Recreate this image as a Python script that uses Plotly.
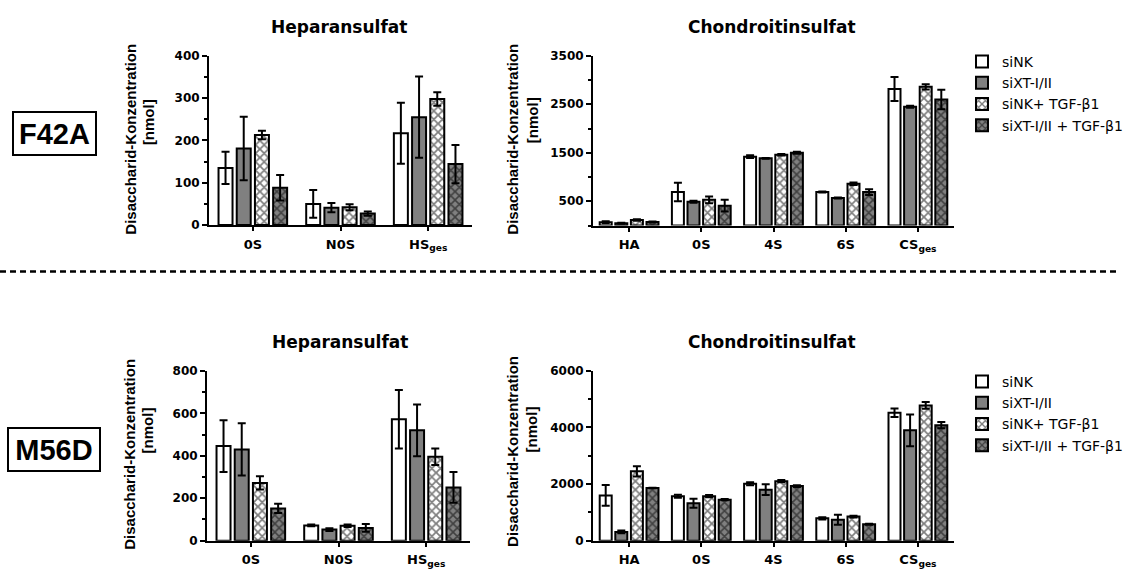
import plotly.graph_objects as go

W, H = 1142, 574

# ---------------- data ----------------
series_names = ["siNK", "siXT-I/II", "siNK+ TGF-\u03b21", "siXT-I/II + TGF-\u03b21"]

hs_categories = ["0S", "N0S", "HS<sub>ges</sub>"]
cs_categories = ["HA", "0S", "4S", "6S", "CS<sub>ges</sub>"]

# F42A - Heparansulfat
f42a_hs_siNK = [135, 50, 217]
f42a_hs_siNK_err = [38, 33, 72]
f42a_hs_siXT = [181, 41, 255]
f42a_hs_siXT_err = [75, 11, 96]
f42a_hs_siNK_tgf = [213, 42, 298]
f42a_hs_siNK_tgf_err = [10, 7, 16]
f42a_hs_siXT_tgf = [88, 27, 144]
f42a_hs_siXT_tgf_err = [30, 5, 45]

# F42A - Chondroitinsulfat
f42a_cs_siNK = [67, 690, 1420, 690, 2815]
f42a_cs_siNK_err = [20, 190, 30, 10, 248]
f42a_cs_siXT = [47, 490, 1385, 570, 2450]
f42a_cs_siXT_err = [10, 20, 10, 10, 20]
f42a_cs_siNK_tgf = [114, 530, 1460, 860, 2860]
f42a_cs_siNK_tgf_err = [15, 70, 15, 25, 55]
f42a_cs_siXT_tgf = [74, 410, 1500, 690, 2600]
f42a_cs_siXT_tgf_err = [10, 120, 20, 60, 200]

# M56D - Heparansulfat
m56d_hs_siNK = [446, 72, 572]
m56d_hs_siNK_err = [122, 4, 138]
m56d_hs_siXT = [430, 52, 520]
m56d_hs_siXT_err = [123, 6, 122]
m56d_hs_siNK_tgf = [272, 70, 395]
m56d_hs_siNK_tgf_err = [31, 6, 39]
m56d_hs_siXT_tgf = [152, 60, 251]
m56d_hs_siXT_tgf_err = [22, 18, 72]

# M56D - Chondroitinsulfat
m56d_cs_siNK = [1600, 1570, 2010, 790, 4520]
m56d_cs_siNK_err = [370, 50, 50, 40, 150]
m56d_cs_siXT = [310, 1320, 1800, 740, 3900]
m56d_cs_siXT_err = [50, 160, 190, 180, 560]
m56d_cs_siNK_tgf = [2450, 1570, 2100, 850, 4780]
m56d_cs_siNK_tgf_err = [180, 40, 40, 30, 120]
m56d_cs_siXT_tgf = [1860, 1450, 1930, 580, 4080]
m56d_cs_siXT_tgf_err = [10, 25, 30, 20, 110]

# ---------------- styling ----------------
GRAY = "#808080"
styles = [
    dict(color="white"),
    dict(color=GRAY),
    dict(color="white", pattern=dict(shape="x", size=6, solidity=0.5, fgcolor="black", bgcolor="white")),
    dict(color=GRAY, pattern=dict(shape="x", size=6, solidity=0.45, fgcolor="black", bgcolor=GRAY)),
]

TICKFONT = dict(family="DejaVu Sans", size=12, color="black", weight="bold")
CATFONT = dict(family="DejaVu Sans", size=13, color="black", weight="bold")


def xd(a, b):
    return [a / W, b / W]


def yd(top, bottom):
    return [1 - bottom / H, 1 - top / H]


panels = [
    dict(xa="x", ya="y", cats=hs_categories,
         data=[(f42a_hs_siNK, f42a_hs_siNK_err), (f42a_hs_siXT, f42a_hs_siXT_err),
               (f42a_hs_siNK_tgf, f42a_hs_siNK_tgf_err), (f42a_hs_siXT_tgf, f42a_hs_siXT_tgf_err)],
         xdom=(209, 472), ydom=(50, 223.5), yr=400, tickvals=[0, 100, 200, 300, 400], minor=50,
         bar=14, slot=18.2, legend=None),
    dict(xa="x2", ya="y2", cats=cs_categories,
         data=[(f42a_cs_siNK, f42a_cs_siNK_err), (f42a_cs_siXT, f42a_cs_siXT_err),
               (f42a_cs_siNK_tgf, f42a_cs_siNK_tgf_err), (f42a_cs_siXT_tgf, f42a_cs_siXT_tgf_err)],
         xdom=(593, 954), ydom=(50, 224), yr=3500, tickvals=[500, 1500, 2500, 3500], minor=500,
         bar=12, slot=15.6, legend="legend"),
    dict(xa="x3", ya="y3", cats=hs_categories,
         data=[(m56d_hs_siNK, m56d_hs_siNK_err), (m56d_hs_siXT, m56d_hs_siXT_err),
               (m56d_hs_siNK_tgf, m56d_hs_siNK_tgf_err), (m56d_hs_siXT_tgf, m56d_hs_siXT_tgf_err)],
         xdom=(207, 470), ydom=(373, 547), yr=800, tickvals=[0, 200, 400, 600, 800], minor=100,
         bar=14, slot=18.2, legend=None),
    dict(xa="x4", ya="y4", cats=cs_categories,
         data=[(m56d_cs_siNK, m56d_cs_siNK_err), (m56d_cs_siXT, m56d_cs_siXT_err),
               (m56d_cs_siNK_tgf, m56d_cs_siNK_tgf_err), (m56d_cs_siXT_tgf, m56d_cs_siXT_tgf_err)],
         xdom=(593, 954), ydom=(373, 547), yr=6000, tickvals=[0, 2000, 4000, 6000], minor=1000,
         bar=12, slot=15.6, legend="legend2"),
]

fig = go.Figure()
layout_axes = {}

for p in panels:
    ncat = len(p["cats"])
    pitch = (p["xdom"][1] - p["xdom"][0]) / ncat
    bw = p["bar"] / pitch
    slot = p["slot"] / pitch
    for i, ((vals, errs), name, st) in enumerate(zip(p["data"], series_names, styles)):
        offset = (i - 2) * slot + (slot - bw) / 2
        fig.add_trace(go.Bar(
            x=p["cats"], y=vals, name=name,
            xaxis=p["xa"], yaxis=p["ya"],
            width=bw, offset=offset,
            marker=dict(line=dict(color="black", width=2), **st),
            error_y=dict(type="data", array=errs, visible=True, color="black", thickness=2, width=4),
            showlegend=p["legend"] is not None,
            legend=p["legend"] if p["legend"] else "legend",
        ))
    xkey = "xaxis" + p["xa"][1:]
    ykey = "yaxis" + p["ya"][1:]
    layout_axes[xkey] = dict(
        domain=xd(*p["xdom"]), anchor=p["ya"], type="category",
        range=[-0.5, ncat - 0.5], showline=True, linewidth=2, linecolor="black",
        ticks="outside", ticklen=4, tickwidth=2, tickcolor="black",
        tickfont=CATFONT, showgrid=False, zeroline=False, ticklabelstandoff=2,
    )
    layout_axes[ykey] = dict(
        domain=yd(*p["ydom"]), anchor=p["xa"], range=[0, p["yr"]],
        tickmode="array", tickvals=p["tickvals"],
        showline=True, linewidth=2, linecolor="black",
        ticks="outside", ticklen=5, tickwidth=2, tickcolor="black",
        minor=dict(tickmode="linear", tick0=0, dtick=p["minor"], ticks="outside",
                   ticklen=3, tickwidth=2, tickcolor="black", showgrid=False),
        tickfont=TICKFONT, showgrid=False, zeroline=False,
    )

annotations = []


def text_ann(text, x, y, size, family="DejaVu Sans", angle=0, **kw):
    annotations.append(dict(
        text=text, x=x / W, y=1 - y / H, xref="paper", yref="paper",
        showarrow=False, xanchor="center", yanchor="middle", textangle=angle,
        font=dict(family=family, size=size, color="black"), **kw))


# panel titles
text_ann("<b>Heparansulfat</b>", 339, 20, 17)
text_ann("<b>Chondroitinsulfat</b>", 772, 20, 17)
text_ann("<b>Heparansulfat</b>", 340, 343, 17)
text_ann("<b>Chondroitinsulfat</b>", 772, 343, 17)

# y-axis titles
for (x1, y1, x2, y2) in [(131, 136, 148, 118), (513, 136, 532, 116),
                         (130, 459, 147, 434), (513, 456, 531, 433)]:
    text_ann("<b>Disaccharid-Konzentration</b>", x1, y1, 15, family="Liberation Sans", angle=-90)
    text_ann("<b>[nmol]</b>", x2, y2, 15, family="Liberation Sans", angle=-90)

# row labels
text_ann("<b>F42A</b>", 54.5, 129.5, 29, family="Liberation Sans",
         bordercolor="black", borderwidth=2, borderpad=1, width=79, height=39)
text_ann("<b>M56D</b>", 54, 453.5, 29, family="Liberation Sans",
         bordercolor="black", borderwidth=2, borderpad=1, width=88, height=39)

legend_common = dict(
    xanchor="left", yanchor="top", bgcolor="rgba(0,0,0,0)", borderwidth=0,
    font=dict(family="DejaVu Sans", size=14, color="black"), tracegroupgap=0, itemwidth=30,
)

fig.update_layout(
    width=W, height=H, margin=dict(l=0, r=0, t=0, b=0),
    paper_bgcolor="white", plot_bgcolor="white",
    barmode="overlay", showlegend=True,
    legend=dict(x=962 / W, y=1 - 40 / H, **legend_common),
    legend2=dict(x=962 / W, y=1 - 368 / H, **legend_common),
    annotations=annotations,
    shapes=[dict(type="line", xref="paper", yref="paper", x0=0, x1=1116 / W,
                 y0=1 - 271 / H, y1=1 - 271 / H,
                 line=dict(color="black", width=2.5, dash="6px,4px"))],
    **layout_axes,
)

fig.write_html("out.html", config={"displayModeBar": False})
